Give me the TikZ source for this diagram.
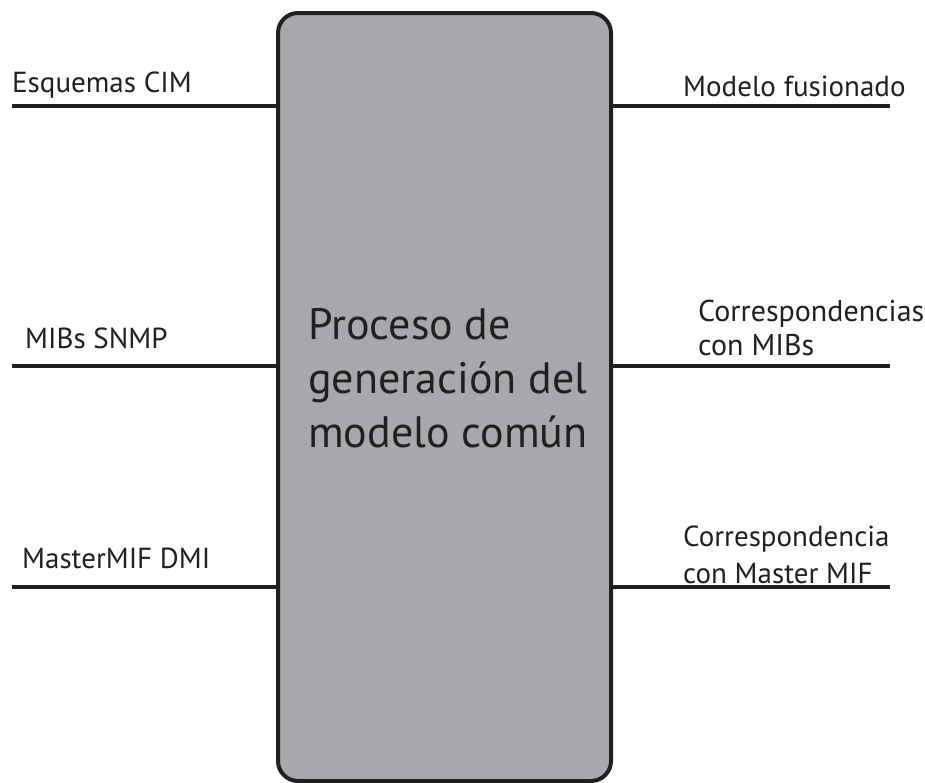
\documentclass[tikz,border=0pt]{standalone}
\usepackage{fontspec}
\setmainfont{PT Sans}
\usetikzlibrary{positioning}
\definecolor{boxgray}{HTML}{A7A8AC}
\definecolor{ink}{HTML}{231F20}

\begin{document}
\begin{tikzpicture}[x=1pt,y=-1pt,
  every node/.style={inner sep=0pt,text=ink},
  lbl/.style={anchor=base west,font=\fontsize{29}{34}\selectfont,align=left},
  wire/.style={draw=ink,line width=4.5pt}]
\useasboundingbox (0,0) rectangle (925,782);
\node[draw=ink,fill=boxgray,line width=4pt,rounded corners=20pt,
  minimum width=333pt,minimum height=768pt] (proc) at (444.5,397) {};
\node[anchor=base west,align=left,font=\fontsize{44}{54}\selectfont]
  (ptxt) at (308,447) {Proceso de\\generación del\\modelo común};
% entradas
\path (12,106) coordinate(in1) (12,366) coordinate(in2) (12,587) coordinate(in3);
\draw[wire] (in1) -- (proc.west |- in1);
\draw[wire] (in2) -- (proc.west |- in2);
\draw[wire] (in3) -- (proc.west |- in3);
\path (12,92) node[lbl](cim){Esquemas CIM}
(25,348) node[lbl](snmp){MIBs SNMP}
(22,568) node[lbl](dmi){MasterMIF DMI};
% salidas
\path (890,106) coordinate(out1) (890,366) coordinate(out2) (890,587) coordinate(out3);
\draw[wire] (proc.east |- out1) -- (out1);
\draw[wire] (proc.east |- out2) -- (out2);
\draw[wire] (proc.east |- out3) -- (out3);
\path (683,96) node[lbl](fus){Modelo fusionado}
(698,355) node[lbl,font=\fontsize{30}{34}\selectfont](mibs){Correspondencias\\con MIBs}
(683,583) node[lbl,font=\fontsize{29}{37}\selectfont](mmif){Correspondencia\\con Master MIF};
\end{tikzpicture}
\end{document}
